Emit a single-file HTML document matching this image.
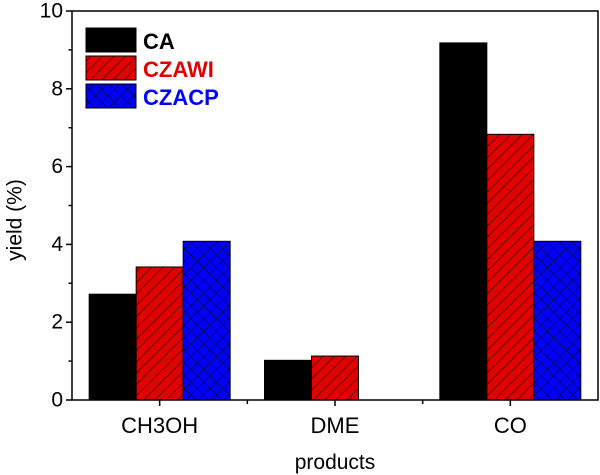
<!DOCTYPE html>
<html><head><meta charset="utf-8"><style>
html,body{margin:0;padding:0;background:#fff;}
svg{display:block;font-family:"Liberation Sans",Arial,sans-serif;}
</style></head><body>
<svg id="chart" width="600" height="475" viewBox="0 0 600 475">
<defs>
<pattern id="diag" width="8" height="8" patternUnits="userSpaceOnUse" patternTransform="rotate(45)">
<rect width="8" height="8" fill="#e00000"/><line x1="0" y1="0" x2="0" y2="8" stroke="#000" stroke-width="1"/>
</pattern>
<pattern id="cross" width="9" height="9" patternUnits="userSpaceOnUse" patternTransform="rotate(45)">
<rect width="9" height="9" fill="#0000ff"/><line x1="0" y1="0" x2="0" y2="9" stroke="#000" stroke-width="1"/><line x1="0" y1="0" x2="9" y2="0" stroke="#000" stroke-width="1"/>
</pattern>
</defs>
<g id="bars"></g>
<g id="axes"></g>
<text x="15" y="220" transform="rotate(-90 15 220)" text-anchor="middle" dominant-baseline="central" font-size="21" fill="#000">yield (%)</text>
<text x="335" y="469" text-anchor="middle" font-size="21" fill="#000">products</text>
<g>
<rect x="86" y="28" width="50" height="24" fill="#000" stroke="#000"/>
<text x="143" y="49" font-size="22" font-weight="bold" fill="#000">CA</text>
<rect x="86" y="56" width="50" height="24" fill="url(#diag)" stroke="#000"/>
<text x="143" y="77" font-size="22" font-weight="bold" fill="#e00000">CZAWI</text>
<rect x="86" y="84" width="50" height="24" fill="url(#cross)" stroke="#000"/>
<text x="143" y="105" font-size="22" font-weight="bold" fill="#0000ff">CZACP</text>
</g>
</svg>
<script>
const categories = ["CH3OH", "DME", "CO"];
const caValues = [2.72, 1.02, 9.18];
const czawiValues = [3.42, 1.13, 6.83];
const czacpValues = [4.08, 0, 4.08];
const yTicks = [0, 2, 4, 6, 8, 10];
const yMinorTicks = [1, 3, 5, 7, 9];

const NS = "http://www.w3.org/2000/svg";
const L = 72, R = 598, T = 11, B = 400, yMax = 10;
const slot = (R - L) / categories.length;
const barW = 47;
function yScale(v){ return B - v / yMax * (B - T); }
function xCenter(i){ return L + slot * (i + 0.5); }
function mk(tag, attrs, parent){
  const e = document.createElementNS(NS, tag);
  for (const k in attrs) e.setAttribute(k, attrs[k]);
  parent.appendChild(e);
  return e;
}
const bars = document.getElementById("bars");
const axes = document.getElementById("axes");
const series = [
  {vals: caValues, fill: "#000", name: "ca"},
  {vals: czawiValues, fill: "url(#diag)", name: "czawi"},
  {vals: czacpValues, fill: "url(#cross)", name: "czacp"}
];
categories.forEach((c, i) => {
  series.forEach((s, j) => {
    const v = s.vals[i];
    if (v <= 0) return;
    const x = xCenter(i) + (j - 1) * barW - barW / 2;
    const r = mk("rect", {x: x, y: yScale(v), width: barW, height: B - yScale(v), fill: s.fill, stroke: "#000", "stroke-width": 1}, bars);
    
    
  });
});
const frame = mk("rect", {x: L, y: T, width: R - L, height: B - T, fill: "none", stroke: "#000", "stroke-width": 1.5}, axes);


yTicks.forEach(t => {
  const y = yScale(t);
  const ln = mk("line", {x1: L - 6, x2: L, y1: y, y2: y, stroke: "#000", "stroke-width": 1.5}, axes);
  
  
  const tx = mk("text", {x: L - 9, y: y, "text-anchor": "end", "dominant-baseline": "central", "font-size": 21, fill: "#000"}, axes);
  tx.textContent = t;
  
  
});
yMinorTicks.forEach(t => {
  const y = yScale(t);
  const ln = mk("line", {x1: L - 3.5, x2: L, y1: y, y2: y, stroke: "#000", "stroke-width": 1.5}, axes);
  
  
});
categories.forEach((c, i) => {
  const x = xCenter(i);
  const ln = mk("line", {x1: x, x2: x, y1: B, y2: B + 6, stroke: "#000", "stroke-width": 1.5}, axes);
  
  
  const tx = mk("text", {x: x, y: B + 33, "text-anchor": "middle", "font-size": 22, fill: "#000"}, axes);
  tx.textContent = c;
  
  
  if (i > 0) {
    const xb = L + slot * i;
    const m = mk("line", {x1: xb, x2: xb, y1: B, y2: B + 4, stroke: "#000", "stroke-width": 1.5}, axes);
    
    
  }
});
</script>
</body></html>
